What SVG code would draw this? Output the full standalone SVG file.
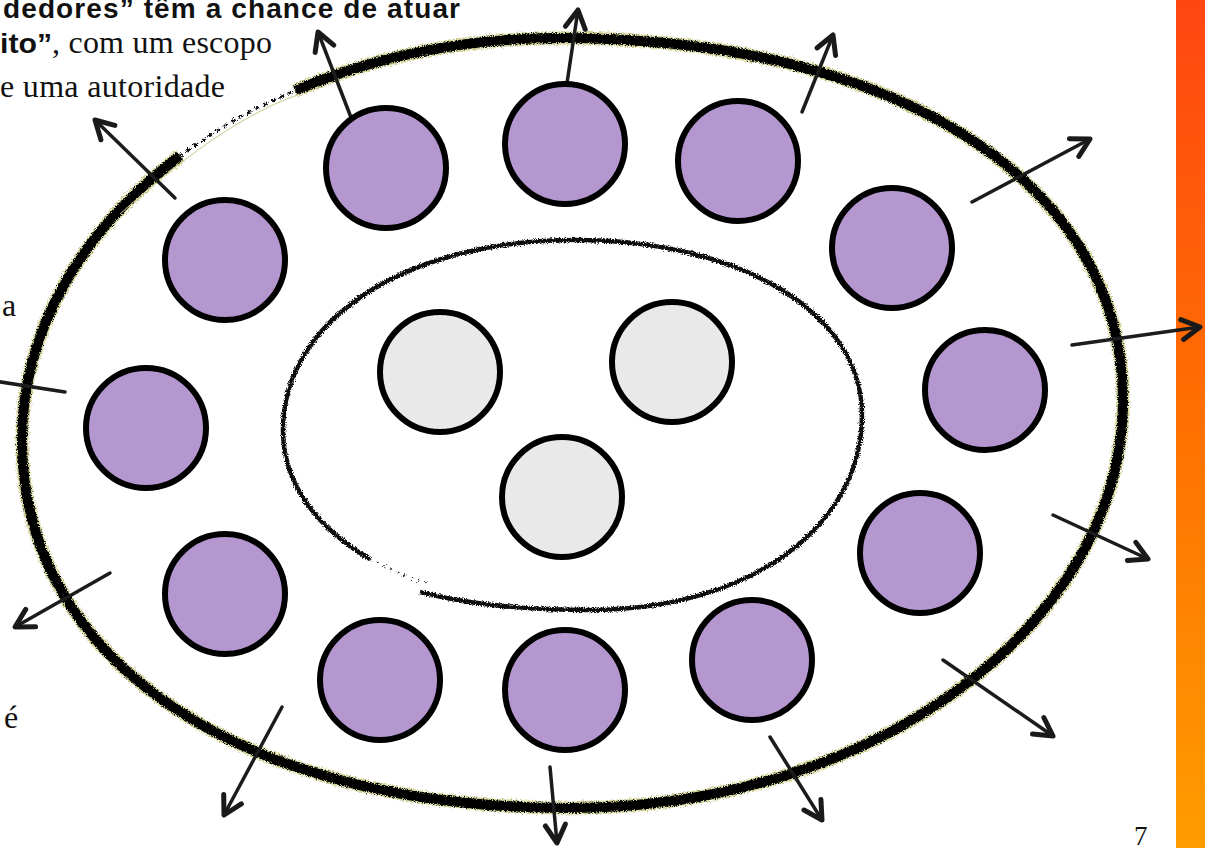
<svg xmlns="http://www.w3.org/2000/svg" width="1205" height="848" viewBox="0 0 1205 848">
<defs>
<linearGradient id="bar" x1="0" y1="0" x2="0" y2="1">
<stop offset="0" stop-color="#ff4612"/>
<stop offset="0.45" stop-color="#ff6c02"/>
<stop offset="1" stop-color="#ff9c00"/>
</linearGradient>
<filter id="rough" x="-3%" y="-3%" width="106%" height="106%">
<feTurbulence type="fractalNoise" baseFrequency="0.9" numOctaves="2" seed="4" result="n"/>
<feDisplacementMap in="SourceGraphic" in2="n" scale="5" xChannelSelector="R" yChannelSelector="G"/>
</filter>
<filter id="rough2" x="-3%" y="-3%" width="106%" height="106%">
<feTurbulence type="fractalNoise" baseFrequency="1.2" numOctaves="2" seed="9" result="n"/>
<feDisplacementMap in="SourceGraphic" in2="n" scale="7" xChannelSelector="R" yChannelSelector="G"/>
</filter>
<marker id="ah" markerUnits="userSpaceOnUse" markerWidth="40" markerHeight="40" refX="0" refY="0" viewBox="-22 -20 30 40" orient="auto">
<path d="M-18,-10 L0,0 L-18,10" fill="none" stroke="#1a1a1a" stroke-width="5" stroke-linecap="round" stroke-linejoin="round"/>
</marker>
<style>
.node circle{stroke:#000;stroke-width:6}
.p{fill:#b597cf}
.g{fill:#e9e9e9}
.arr{stroke:#1c1c1c;stroke-width:3.5;fill:none;stroke-linecap:round;marker-end:url(#ah)}
.bs{font-family:"Liberation Sans",Arial,sans-serif;font-weight:bold;fill:#111}
.sf{font-family:"Liberation Serif","Times New Roman",serif;fill:#111}
</style>
</defs>
<rect width="1205" height="848" fill="#fff"/>
<rect x="1176" y="0" width="29" height="848" fill="url(#bar)"/>

<g id="text">
<text class="bs" x="3" y="18" font-size="28" textLength="457" lengthAdjust="spacing">dedores” têm a chance de atuar</text>
<text class="bs" x="0" y="53" font-size="28" textLength="52" lengthAdjust="spacingAndGlyphs">ito”</text>
<text class="sf" x="52" y="53" font-size="32" textLength="220" lengthAdjust="spacing">, com um escopo</text>
<text class="sf" x="0" y="97" font-size="32" textLength="225" lengthAdjust="spacing">e uma autoridade</text>
<text class="sf" x="2" y="316" font-size="32">a</text>
<text class="sf" x="4" y="728" font-size="32">é</text>
<text class="sf" x="1134" y="845" font-size="27">7</text>
</g>

<g id="outer-ring">
<path d="M295,90.6 C373.4,57.1 463.8,38 560,38 C898,38 1123,183 1123,400 C1123,624 874,808 570,808 C241,808 22,661 22,440 C22,329.5 82.5,229 180,156" fill="none" stroke="#a9a93a" stroke-width="13" opacity="0.55" filter="url(#rough2)"/>
<path d="M295,90.6 C373.4,57.1 463.8,38 560,38 C898,38 1123,183 1123,400 C1123,624 874,808 570,808 C241,808 22,661 22,440 C22,329.5 82.5,229 180,156" fill="none" stroke="#050505" stroke-width="10" filter="url(#rough)"/>
<path d="M180,156 C214.1,130.5 252.8,108.4 295,90.6" fill="none" stroke="#111" stroke-width="3" stroke-dasharray="2 7" stroke-linecap="round" filter="url(#rough2)"/>
<path d="M120,214 C160,178 230,118 300,94" fill="none" stroke="#c9c98a" stroke-width="1"/>
</g>

<g id="inner-ring">
<path d="M420,592 C470,605 530,610 590,610 C748,610 862,528 862,415 C862,313 741,240 575,240 C406,240 283,320 283,430 C283,482 315,527 370,559" fill="none" stroke="#0a0a0a" stroke-width="4.5" filter="url(#rough)"/>
<path d="M370,559 Q398,574 428,584" fill="none" stroke="#333" stroke-width="2" stroke-dasharray="1.5 6" filter="url(#rough2)"/>
</g>

<g id="connectors">
<line class="arr" x1="352" y1="120" x2="318" y2="32"/>
<line class="arr" x1="567" y1="83" x2="578" y2="10"/>
<line class="arr" x1="802" y1="112" x2="833" y2="35"/>
<line class="arr" x1="972" y1="202" x2="1090" y2="139"/>
<line class="arr" x1="1072" y1="345" x2="1200" y2="327"/>
<line class="arr" x1="1053" y1="515" x2="1148" y2="559"/>
<line class="arr" x1="943" y1="660" x2="1053" y2="736"/>
<line class="arr" x1="770" y1="737" x2="822" y2="820"/>
<line class="arr" x1="550" y1="767" x2="557" y2="843"/>
<line class="arr" x1="282" y1="707" x2="224" y2="815"/>
<line class="arr" x1="110" y1="573" x2="15" y2="627"/>
<line class="arr" x1="65" y1="392" x2="-25" y2="378"/>
<line class="arr" x1="175" y1="198" x2="95" y2="120"/>
</g>

<g id="n1" class="node"><circle class="p" cx="225" cy="260" r="60"/></g>
<g id="n2" class="node"><circle class="p" cx="386" cy="168" r="60"/></g>
<g id="n3" class="node"><circle class="p" cx="565" cy="144" r="60"/></g>
<g id="n4" class="node"><circle class="p" cx="738" cy="161" r="60"/></g>
<g id="n5" class="node"><circle class="p" cx="892" cy="248" r="60"/></g>
<g id="n6" class="node"><circle class="p" cx="985" cy="390" r="60"/></g>
<g id="n7" class="node"><circle class="p" cx="920" cy="553" r="60"/></g>
<g id="n8" class="node"><circle class="p" cx="752" cy="660" r="60"/></g>
<g id="n9" class="node"><circle class="p" cx="565" cy="690" r="60"/></g>
<g id="n10" class="node"><circle class="p" cx="380" cy="680" r="60"/></g>
<g id="n11" class="node"><circle class="p" cx="225" cy="594" r="60"/></g>
<g id="n12" class="node"><circle class="p" cx="146" cy="428" r="60"/></g>
<g id="c1" class="node"><circle class="g" cx="440" cy="372" r="60"/></g>
<g id="c2" class="node"><circle class="g" cx="672" cy="362" r="60"/></g>
<g id="c3" class="node"><circle class="g" cx="562" cy="497" r="60"/></g>
</svg>
